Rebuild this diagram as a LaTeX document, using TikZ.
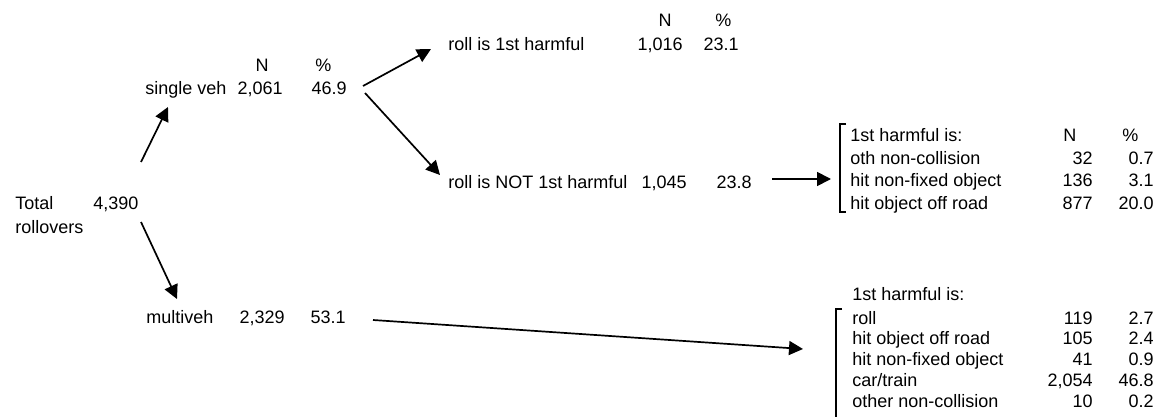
\documentclass[tikz,border=0pt]{standalone}
\usepackage{fontspec}
\setmainfont{Liberation Sans}
\usetikzlibrary{arrows.meta}
\begin{document}
\begin{tikzpicture}[x=0.5pt,y=-0.5pt,
  every node/.style={inner sep=0pt, font=\fontsize{9}{11}\selectfont},
  lbl/.style={anchor=base west},
  num/.style={anchor=base east},
  hdr/.style={anchor=base},
  arr/.style={line width=0.85pt, -{Triangle[length=7pt,width=7pt]}},
  brk/.style={line width=0.6pt}]
\useasboundingbox (0,0) rectangle (1162,417);
% left
\node[lbl] (total) at (15,209) {Total};
\node[lbl] (rollovers) at (15,233) {rollovers};
\node[lbl] (totn) at (93,209) {4,390};
% single veh
\node[hdr] (sN) at (262,72) {N};
\node[lbl] (sP) at (315,72) {\%};
\node[lbl] (single) at (145,95) {single veh};
\node[num] (singleN) at (283,95) {2,061};
\node[num] (singleP) at (347,95) {46.9};
% multiveh
\node[lbl] (multi) at (146,323) {multiveh};
\node[num] (multiN) at (285,323) {2,329};
\node[num] (multiP) at (346,323) {53.1};
% roll branches
\node[hdr] (rN) at (665,27) {N};
\node[lbl] (rP) at (715,27) {\%};
\node[lbl] (roll1) at (448,51) {roll is 1st harmful};
\node[num] (roll1N) at (683,51) {1,016};
\node[num] (roll1P) at (739,51) {23.1};
\node[lbl] (roll2) at (448,188) {roll is NOT 1st harmful};
\node[num] (roll2N) at (687,188) {1,045};
\node[num] (roll2P) at (752,188) {23.8};
% table 1
\node[lbl] (t1h) at (850,141) {1st harmful is:};
\node[lbl] (t1N) at (1063,141) {N};
\node[lbl] (t1P) at (1122,141) {\%};
\node[lbl] (t1a) at (850,164) {oth non-collision};
\node[num] (t1aN) at (1093,164) {32};
\node[num] (t1aP) at (1154,164) {0.7};
\node[lbl] (t1b) at (850,186) {hit non-fixed object};
\node[num] (t1bN) at (1093,186) {136};
\node[num] (t1bP) at (1154,186) {3.1};
\node[lbl] (t1c) at (850,209) {hit object off road};
\node[num] (t1cN) at (1093,209) {877};
\node[num] (t1cP) at (1154,209) {20.0};
% table 2
\node[lbl] (t2h) at (852,300) {1st harmful is:};
\node[lbl] (t2a) at (852,324) {roll};
\node[num] (t2aN) at (1093,324) {119};
\node[num] (t2aP) at (1154,324) {2.7};
\node[lbl] (t2b) at (852,344) {hit object off road};
\node[num] (t2bN) at (1093,344) {105};
\node[num] (t2bP) at (1154,344) {2.4};
\node[lbl] (t2c) at (852,365) {hit non-fixed object};
\node[num] (t2cN) at (1093,365) {41};
\node[num] (t2cP) at (1154,365) {0.9};
\node[lbl] (t2d) at (852,386) {car/train};
\node[num] (t2dN) at (1093,386) {2,054};
\node[num] (t2dP) at (1154,386) {46.8};
\node[lbl] (t2e) at (852,407) {other non-collision};
\node[num] (t2eN) at (1093,407) {10};
\node[num] (t2eP) at (1154,407) {0.2};
% brackets
\draw[brk] (846,124) -- (840,124) -- (840,212) -- (846,212);
\draw[brk] (842,309) -- (836,309) -- (836,417);
% arrow end points
\coordinate (a1s) at (141,162); \coordinate (a1e) at (168,107);
\coordinate (a2s) at (141,222); \coordinate (a2e) at (177,299);
\coordinate (a3s) at (363,86);  \coordinate (a3e) at (431,49);
\coordinate (a4s) at (365,93);  \coordinate (a4e) at (440,175);
\coordinate (a5s) at (772,179); \coordinate (a5e) at (831,179);
\coordinate (a6s) at (373,320); \coordinate (a6e) at (803,349);
\draw[arr] (a1s) -- (a1e);
\draw[arr] (a2s) -- (a2e);
\draw[arr] (a3s) -- (a3e);
\draw[arr] (a4s) -- (a4e);
\draw[arr] (a5s) -- (a5e);
\draw[arr] (a6s) -- (a6e);
\end{tikzpicture}
\end{document}
